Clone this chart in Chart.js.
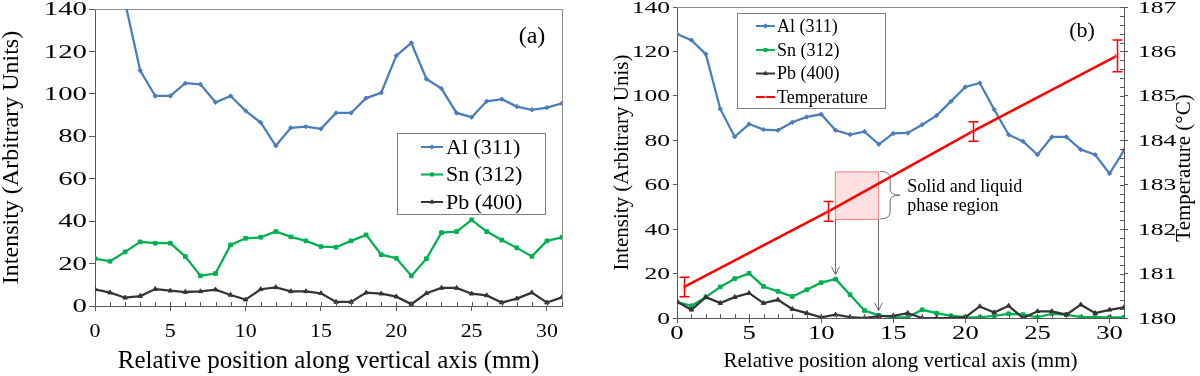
<!DOCTYPE html>
<html>
<head>
<meta charset="utf-8">
<title>XRD intensity profiles</title>
<script src="https://cdn.jsdelivr.net/npm/chart.js@4.4.1/dist/chart.umd.min.js"></script>
<style>
  body { margin: 0; background: #fff; }
  #wrap { position: relative; width: 1200px; height: 376px; overflow: hidden; }
  canvas { position: absolute; top: 0; }
</style>
</head>
<body>
<div id="wrap">
  <canvas id="chartA" width="590" height="376" style="left:0"></canvas>
  <canvas id="chartB" width="610" height="376" style="left:590px"></canvas>
</div>
<script>
// positions along the sample (mm)
const positions = [0, 1, 2, 3, 4, 5, 6, 7, 8, 9, 10, 11, 12, 13, 14, 15,
  16, 17, 18, 19, 20, 21, 22, 23, 24, 25, 26, 27, 28, 29, 30, 31];

// panel (a) - first two Al values are off the top of the scale
const alA = [null, null, 143, 111, 99, 99, 105, 104.5, 96, 99, 92, 86.5, 75.5, 84, 84.5, 83.5,
  91, 91, 98, 100.5, 118, 124, 107, 102.5, 91, 89, 96.5, 97.5, 94, 92.5, 93.5, 95.5];
const snA = [22.3, 21.1, 25.5, 30.2, 29.6, 29.6, 23.3, 14.2, 15.3, 28.8, 31.9, 32.4, 35.1, 32.6, 30.7, 28,
  27.7, 30.7, 33.5, 24.2, 22.5, 14.2, 22.3, 34.6, 35.1, 40.6, 35.1, 31.1, 27.4, 23.4, 30.7, 32.4];
const pbA = [7.9, 6.3, 3.9, 4.7, 8, 7.2, 6.6, 6.9, 7.7, 5.2, 3, 7.9, 8.8, 6.9, 6.9, 6,
  1.9, 1.9, 6.3, 5.8, 4.4, 0.9, 6, 8.5, 8.5, 5.8, 5, 1.6, 3.5, 6.3, 1.6, 4.1];

// panel (b)
const alB = [127.8, 125.1, 118.8, 94.1, 81.6, 87.3, 84.8, 84.5, 88.1, 90.5, 91.7, 84.5, 82.6, 83.9, 78.2, 83.1,
  83.3, 87, 91.1, 97.5, 104, 105.8, 93.8, 82.5, 79.5, 73.5, 81.5, 81.5, 75.8, 73.5, 65, 75.5];
const snB = [7.2, 5.5, 9.4, 14, 17.7, 20.1, 14.2, 12, 9.7, 12.7, 15.9, 17.5, 10.5, 3.4, 1.2, 0.3,
  0.3, 3.7, 2.2, 1, 0.4, 0.3, 1, 1.9, 1.5, 0.3, 1.9, 1.5, 0.4, 0.4, 0.3, 0.3];
const pbB = [7.3, 3.7, 9.4, 6.7, 9.4, 11.2, 6.7, 8.2, 4, 2.2, 0.3, 1.5, 0.4, 0, 0.8, 1,
  2.2, 0, 0, 0, 0.4, 5.2, 2.5, 5.5, 0, 3, 3, 1.5, 6, 2.2, 3.7, 4.8];

// temperature (right axis, degC) with error
const tempPos = [0.5, 10.5, 20.5, 30.5];
const tempVal = [180.7, 182.4, 184.2, 185.9];
const tempErr = [0.22, 0.22, 0.22, 0.36];

const serif = '"Liberation Serif", "Times New Roman", Times, serif';
const axisColor = '#595959';
const frameColor = '#8c8c8c';
const blue = 'rgb(74,126,187)';
const green = 'rgb(0,176,80)';
const dark = 'rgb(52,52,52)';

Chart.defaults.font.family = serif;
Chart.defaults.color = '#000';

function pts(xs, ys) {
  return xs.map((x, i) => ({ x: x, y: ys[i] }));
}

function series(label, ys, color, style, order) {
  return {
    label: label,
    data: pts(positions, ys),
    borderColor: color,
    backgroundColor: color,
    borderWidth: 2.25,
    pointStyle: style,
    pointRadius: style === 'rectRot' ? 2.2 : 2.6,
    pointBorderWidth: 1,
    order: order,
    tension: 0,
  };
}

function minorTicks(chart, id, step, len) {
  const s = chart.scales[id];
  const a = chart.chartArea;
  const ctx = chart.ctx;
  const n = Math.round((s.max - s.min) / step);
  ctx.save();
  ctx.strokeStyle = axisColor;
  ctx.lineWidth = 1;
  ctx.beginPath();
  for (let i = 0; i <= n; i++) {
    const p = Math.round(s.getPixelForValue(s.min + i * step)) + 0.5;
    if (s.isHorizontal()) {
      ctx.moveTo(p, a.bottom);
      ctx.lineTo(p, a.bottom - len);
    } else if (s.position === 'right') {
      ctx.moveTo(a.right, p);
      ctx.lineTo(a.right - len, p);
    } else {
      ctx.moveTo(a.left, p);
      ctx.lineTo(a.left + len, p);
    }
  }
  ctx.stroke();
  ctx.restore();
}

// tick labels, slightly stretched like the original figure
function tickLabels(chart, id, cfg) {
  const s = chart.scales[id];
  const ctx = chart.ctx;
  ctx.save();
  ctx.font = cfg.size + 'px ' + serif;
  ctx.fillStyle = '#000';
  ctx.textBaseline = 'alphabetic';
  s.ticks.forEach((t) => {
    const label = String(t.value);
    const p = s.getPixelForValue(t.value);
    const w = ctx.measureText(label).width * cfg.stretch;
    let x, y;
    if (s.isHorizontal()) {
      x = p - w / 2;
      y = cfg.baseline;
    } else {
      y = p + cfg.size * 0.338;
      x = cfg.align === 'right' ? cfg.edge - w : cfg.edge;
    }
    ctx.save();
    ctx.translate(x, y);
    ctx.scale(cfg.stretch, 1);
    ctx.fillText(label, 0, 0);
    ctx.restore();
  });
  ctx.restore();
}

function drawLegend(chart, L) {
  const ctx = chart.ctx;
  const drawPoint = Chart.helpers && Chart.helpers.drawPoint;
  ctx.save();
  ctx.fillStyle = '#fff';
  ctx.fillRect(L.left, L.top, L.width, L.height);
  ctx.strokeStyle = '#7f7f7f';
  ctx.lineWidth = 1;
  ctx.strokeRect(L.left + 0.5, L.top + 0.5, L.width, L.height);
  ctx.font = L.size + 'px ' + serif;
  ctx.textBaseline = 'middle';
  chart.data.datasets.forEach((ds, i) => {
    const yy = L.rows[i];
    ctx.strokeStyle = ds.borderColor;
    ctx.lineWidth = 2;
    ctx.beginPath();
    ctx.moveTo(L.x1, yy);
    ctx.lineTo(L.x2, yy);
    ctx.stroke();
    if (drawPoint) {
      ctx.fillStyle = ds.pointBackgroundColor || ds.backgroundColor;
      ctx.strokeStyle = ds.pointBorderColor || ds.borderColor;
      ctx.lineWidth = 1;
      drawPoint(ctx, { pointStyle: ds.pointStyle, radius: 2.2, rotation: 0, borderWidth: 1 }, (L.x1 + L.x2) / 2, yy);
    }
    ctx.fillStyle = '#000';
    ctx.fillText(ds.label, L.textX, yy + 1);
  });
  ctx.restore();
}

function panelText(ctx, text, x, y, size) {
  ctx.save();
  ctx.font = size + 'px ' + serif;
  ctx.fillStyle = '#000';
  ctx.textAlign = 'center';
  ctx.textBaseline = 'middle';
  ctx.fillText(text, x, y);
  ctx.restore();
}

const panelA = {
  id: 'panelA',
  beforeDatasetsDraw(chart) {
    const a = chart.chartArea;
    const ctx = chart.ctx;
    ctx.save();
    ctx.strokeStyle = frameColor;
    ctx.lineWidth = 1;
    ctx.beginPath();
    ctx.moveTo(a.left, a.top + 0.5);
    ctx.lineTo(a.right + 0.5, a.top + 0.5);
    ctx.lineTo(a.right + 0.5, a.bottom);
    ctx.stroke();
    ctx.restore();
  },
  afterDraw(chart) {
    minorTicks(chart, 'x', 1, 4);
    tickLabels(chart, 'y', { size: 18, stretch: 1.6, edge: 87, align: 'right' });
    tickLabels(chart, 'x', { size: 19, stretch: 1.15, baseline: 336.5 });
    drawLegend(chart, { left: 397, top: 133, width: 148, height: 81, rows: [147, 174.5, 202],
      x1: 421, x2: 443, textX: 446, size: 22 });
    panelText(chart.ctx, '(a)', 532, 37, 24);
  },
};

const panelB = {
  id: 'panelB',
  beforeDatasetsDraw(chart) {
    const a = chart.chartArea;
    const x = chart.scales.x;
    const y = chart.scales.y;
    const ctx = chart.ctx;
    ctx.save();
    ctx.strokeStyle = frameColor;
    ctx.lineWidth = 1;
    ctx.beginPath();
    ctx.moveTo(a.left, a.top + 0.5);
    ctx.lineTo(a.right, a.top + 0.5);
    ctx.stroke();
    // solid + liquid region box
    const l = x.getPixelForValue(10.95), r = x.getPixelForValue(13.95);
    const t = y.getPixelForValue(66), b = y.getPixelForValue(44.6);
    ctx.fillStyle = 'rgba(255,0,0,0.12)';
    ctx.fillRect(l, t, r - l, b - t);
    ctx.strokeStyle = 'rgba(255,110,110,0.9)';
    ctx.strokeRect(l + 0.5, t + 0.5, r - l, b - t);
    ctx.restore();
  },
  afterDatasetsDraw(chart) {
    const x = chart.scales.x;
    const y = chart.scales.y;
    const y1 = chart.scales.y1;
    const ctx = chart.ctx;
    ctx.save();
    // error bars on temperature
    ctx.strokeStyle = 'red';
    ctx.lineWidth = 1.5;
    tempPos.forEach((p, i) => {
      const px = Math.round(x.getPixelForValue(p)) + 0.5;
      const top = y1.getPixelForValue(tempVal[i] + tempErr[i]);
      const bot = y1.getPixelForValue(tempVal[i] - tempErr[i]);
      ctx.beginPath();
      ctx.moveTo(px, top); ctx.lineTo(px, bot);
      ctx.moveTo(px - 5, top); ctx.lineTo(px + 5, top);
      ctx.moveTo(px - 5, bot); ctx.lineTo(px + 5, bot);
      ctx.stroke();
    });
    // arrows from box down to the curves
    ctx.strokeStyle = '#6e6e6e';
    ctx.lineWidth = 1;
    const boxBottom = y.getPixelForValue(44.6);
    [[10.95, 19.5], [13.95, 3.3]].forEach(([xv, tipV]) => {
      const px = Math.round(x.getPixelForValue(xv)) + 0.5;
      const tip = y.getPixelForValue(tipV);
      ctx.beginPath();
      ctx.moveTo(px, boxBottom);
      ctx.lineTo(px, tip);
      ctx.moveTo(px - 4, tip - 8);
      ctx.lineTo(px, tip);
      ctx.lineTo(px + 4, tip - 8);
      ctx.stroke();
    });
    // curly brace
    const bx = x.getPixelForValue(13.95) + 2;
    const bt = y.getPixelForValue(66);
    const bb = y.getPixelForValue(44.6);
    const bm = (bt + bb) / 2;
    ctx.beginPath();
    ctx.moveTo(bx, bt);
    ctx.quadraticCurveTo(bx + 10, bt, bx + 10, bt + 7);
    ctx.lineTo(bx + 10, bm - 6);
    ctx.quadraticCurveTo(bx + 10, bm, bx + 20, bm);
    ctx.quadraticCurveTo(bx + 10, bm, bx + 10, bm + 6);
    ctx.lineTo(bx + 10, bb - 7);
    ctx.quadraticCurveTo(bx + 10, bb, bx, bb);
    ctx.stroke();
    ctx.font = '18px ' + serif;
    ctx.fillStyle = '#000';
    ctx.textBaseline = 'alphabetic';
    ctx.fillText('Solid and liquid', bx + 27, bm - 3.5);
    ctx.fillText('phase region', bx + 27, bm + 15.5);
    ctx.restore();
  },
  afterDraw(chart) {
    minorTicks(chart, 'x', 1, 4);
    minorTicks(chart, 'y1', 0.2, 4);
    tickLabels(chart, 'y', { size: 16.5, stretch: 1.55, edge: 80, align: 'right' });
    tickLabels(chart, 'y1', { size: 16.5, stretch: 1.55, edge: 548, align: 'left' });
    tickLabels(chart, 'x', { size: 19, stretch: 1.4, baseline: 339 });
    drawLegend(chart, { left: 147, top: 13, width: 148, height: 95, rows: [26, 50, 73.5, 97],
      x1: 166, x2: 185, textX: 187, size: 18 });
    panelText(chart.ctx, '(b)', 492, 31, 22);
    const ctx = chart.ctx;
    ctx.save();
    ctx.translate(594, 168);
    ctx.rotate(-Math.PI / 2);
    ctx.font = '21px ' + serif;
    ctx.fillStyle = '#000';
    ctx.textAlign = 'center';
    ctx.textBaseline = 'middle';
    ctx.fillText('Temperature (\u00B0C)', 0, 0);
    ctx.restore();
  },
};

function axisGrid(len) {
  return { display: true, drawOnChartArea: false, drawTicks: true, tickLength: len, color: axisColor };
}

new Chart(document.getElementById('chartA'), {
  type: 'line',
  data: {
    datasets: [
      series('Al (311)', alA, blue, 'rectRot', 3),
      series('Sn (312)', snA, green, 'rect', 2),
      series('Pb (400)', pbA, dark, 'triangle', 1),
    ],
  },
  options: {
    responsive: false,
    animation: false,
    events: [],
    layout: { padding: { left: 0, right: 28, top: 9, bottom: 0 } },
    plugins: { legend: { display: false }, tooltip: { enabled: false } },
    scales: {
      x: {
        type: 'linear', min: 0, max: 31,
        ticks: { display: false, stepSize: 5, includeBounds: false },
        grid: axisGrid(5),
        border: { color: axisColor },
        title: { display: true, text: 'Relative position along vertical axis (mm)',
          font: { size: 25, lineHeight: 1.2 }, padding: { top: 0, bottom: 0 } },
        afterFit: (s) => { s.height = 70; },
      },
      y: {
        min: 0, max: 140,
        ticks: { display: false, stepSize: 20 },
        grid: axisGrid(6),
        border: { color: axisColor },
        title: { display: true, text: 'Intensity (Arbitrary Units)',
          font: { size: 24, lineHeight: 1 }, padding: { top: 0, bottom: 0 } },
        afterFit: (s) => { s.width = 95; },
      },
    },
  },
  plugins: [panelA],
});

new Chart(document.getElementById('chartB'), {
  type: 'line',
  data: {
    datasets: [
      series('Al (311)', alB, blue, 'rectRot', 3),
      series('Sn (312)', snB, green, 'rect', 2),
      series('Pb (400)', pbB, dark, 'triangle', 1),
      {
        label: 'Temperature',
        data: pts(tempPos, tempVal),
        yAxisID: 'y1',
        borderColor: 'red',
        backgroundColor: 'red',
        borderWidth: 2.5,
        pointStyle: 'crossRot',
        pointRadius: 3.5,
        pointBorderColor: '#ff8a8a',
        pointBorderWidth: 1,
        order: 0,
      },
    ],
  },
  options: {
    responsive: false,
    animation: false,
    events: [],
    layout: { padding: { left: 0, right: 0, top: 7, bottom: 0 } },
    plugins: { legend: { display: false }, tooltip: { enabled: false } },
    scales: {
      x: {
        type: 'linear', min: 0, max: 31,
        ticks: { display: false, stepSize: 5, includeBounds: false },
        grid: axisGrid(5),
        border: { color: axisColor },
        title: { display: true, text: 'Relative position along vertical axis (mm)',
          font: { size: 21, lineHeight: 1.2 }, padding: { top: 0, bottom: 2 } },
        afterFit: (s) => { s.height = 58; },
      },
      y: {
        min: 0, max: 140,
        ticks: { display: false, stepSize: 20 },
        grid: axisGrid(4),
        border: { color: axisColor },
        title: { display: true, text: 'Intensity (Arbitrary Unis)',
          font: { size: 21, lineHeight: 1 }, padding: { top: 21.5, bottom: 0 } },
        afterFit: (s) => { s.width = 87; },
      },
      y1: {
        position: 'right',
        min: 180, max: 187,
        ticks: { display: false, stepSize: 1 },
        grid: axisGrid(4),
        border: { color: axisColor },
        afterFit: (s) => { s.width = 76; },
      },
    },
  },
  plugins: [panelB],
});
</script>
</body>
</html>
